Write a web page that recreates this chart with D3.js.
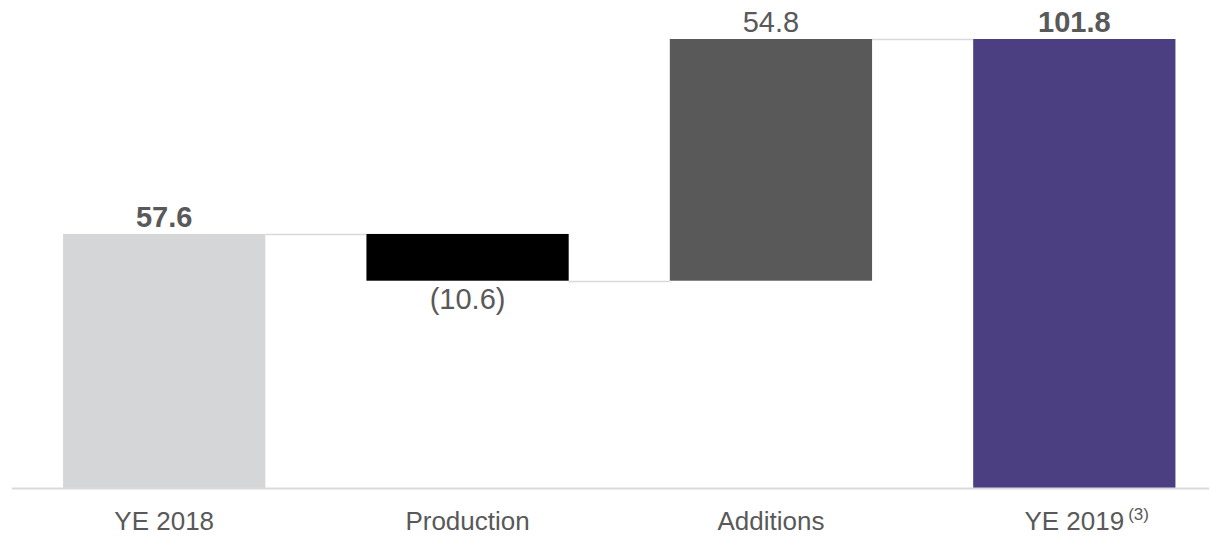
<!DOCTYPE html>
<html>
<head>
<meta charset="utf-8">
<script src="https://cdn.jsdelivr.net/npm/d3@7"></script>
<style>
  html, body { margin: 0; padding: 0; background: #fff; }
  svg { display: block; font-family: "Liberation Sans", Arial, sans-serif; }
</style>
</head>
<body>
<svg id="chart" width="1210" height="537"></svg>
<script>
// Reserves bridge, YE 2018 to YE 2019
const categories = ["YE 2018", "Production", "Additions", "YE 2019"];
const footnotes  = ["", "", "", "(3)"];
const values     = [57.6, -10.6, 54.8, 101.8];
const kinds      = ["total", "delta", "delta", "total"];
const barColors  = ["#d5d6d8", "#000000", "#595959", "#4b3f82"];

const W = 1210, H = 537;
const baseY = 488, topY = 39;
const textColor = "#595959";
const lineColor = "#d9d9d9";

// Running totals give each bar its start and end level
let running = 0;
const bars = categories.map((c, i) => {
  let y0, y1;
  if (kinds[i] === "total") { y0 = 0; y1 = values[i]; running = values[i]; }
  else { y0 = running; y1 = running + values[i]; running = y1; }
  return { cat: c, value: values[i], kind: kinds[i], y0, y1, color: barColors[i], note: footnotes[i] };
});

const x = d3.scaleBand().domain(categories).range([12.5, 1226]).paddingInner(1 / 3).paddingOuter(1 / 6);
const y = d3.scaleLinear().domain([0, d3.max(values)]).range([baseY, topY]);

const svg = d3.select("#chart");

// Connectors between consecutive bars
const links = bars.slice(0, -1).map((b, i) => ({ from: b, to: bars[i + 1], level: b.y1 }));
svg.append("g").selectAll("line").data(links).join("line")
  .attr("x1", d => x(d.from.cat) + x.bandwidth())
  .attr("x2", d => x(d.to.cat))
  .attr("y1", d => Math.round(y(d.level)) + 0.5)
  .attr("y2", d => Math.round(y(d.level)) + 0.5)
  .attr("stroke", lineColor).attr("stroke-width", 1.5);

// Bars
svg.append("g").selectAll("rect").data(bars).join("rect")
  .attr("x", d => x(d.cat))
  .attr("width", x.bandwidth())
  .attr("y", d => y(Math.max(d.y0, d.y1)))
  .attr("height", d => Math.abs(y(d.y0) - y(d.y1)))
  .attr("fill", d => d.color);

// Baseline axis with category labels
const axis = d3.axisBottom(x).tickSize(0).tickPadding(0);
const gx = svg.append("g").attr("transform", `translate(0,${baseY})`).call(axis);
gx.select(".domain").remove();
gx.append("line")
  .attr("x1", 12).attr("x2", 1209).attr("y1", 0.5).attr("y2", 0.5)
  .attr("stroke", lineColor).attr("stroke-width", 2);
gx.selectAll(".tick text")
  .attr("y", 42).attr("dy", null)
  .attr("font-size", 26)
  .attr("font-family", "'Liberation Sans', Arial, sans-serif")
  .attr("fill", textColor);

// Footnote markers as superscripts after the category names
gx.selectAll(".tick").each(function (cat) {
  const note = footnotes[categories.indexOf(cat)];
  if (!note) return;
  const t = d3.select(this).select("text");
  const w = t.node().getComputedTextLength();
  d3.select(this).append("text")
    .attr("x", w / 2 + 4).attr("y", 32)
    .attr("font-size", 17)
    .attr("font-family", "'Liberation Sans', Arial, sans-serif")
    .attr("fill", textColor)
    .attr("text-anchor", "start")
    .text(note);
});

// Value labels: totals bold, decreases in parentheses below the bar
const fmt = v => v < 0 ? `(${d3.format(".1f")(-v)})` : d3.format(".1f")(v);
svg.append("g").selectAll("text").data(bars).join("text")
  .attr("x", d => x(d.cat) + x.bandwidth() / 2)
  .attr("y", d => d.value < 0 ? y(Math.min(d.y0, d.y1)) + 28 : y(Math.max(d.y0, d.y1)) - 7)
  .attr("text-anchor", "middle")
  .attr("font-size", 29)
  .attr("font-weight", d => d.kind === "total" ? "bold" : "normal")
  .attr("fill", textColor)
  .text(d => fmt(d.value));
</script>
</body>
</html>
